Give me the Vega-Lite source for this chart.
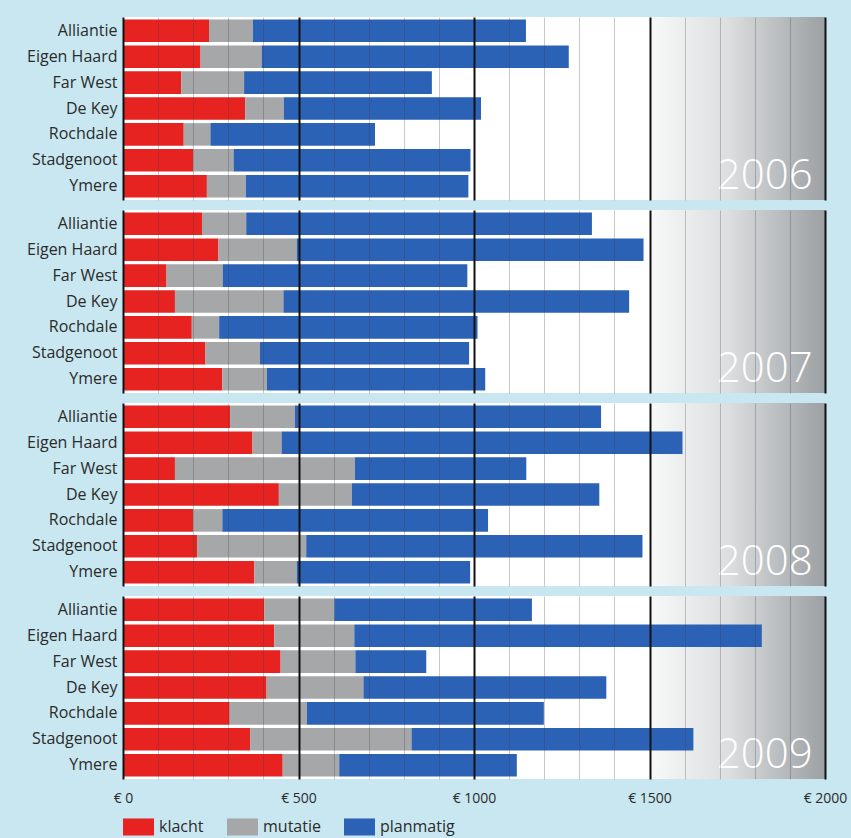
{
  "$schema": "https://vega.github.io/schema/vega-lite/v6.json",
  "background": "#c8e7f0",
  "padding": {"left": 26, "top": 17, "right": 10, "bottom": 2},
  "config": {
    "view": {"fill": "white", "stroke": null},
    "font": "Open Sans"
  },
  "data": {
    "values": [
      {"year": 2006, "corp": "Alliantie", "cat": "klacht", "value": 245},
      {"year": 2006, "corp": "Alliantie", "cat": "mutatie", "value": 125},
      {"year": 2006, "corp": "Alliantie", "cat": "planmatig", "value": 778},
      {"year": 2006, "corp": "Eigen Haard", "cat": "klacht", "value": 221},
      {"year": 2006, "corp": "Eigen Haard", "cat": "mutatie", "value": 174},
      {"year": 2006, "corp": "Eigen Haard", "cat": "planmatig", "value": 875},
      {"year": 2006, "corp": "Far West", "cat": "klacht", "value": 166},
      {"year": 2006, "corp": "Far West", "cat": "mutatie", "value": 179},
      {"year": 2006, "corp": "Far West", "cat": "planmatig", "value": 535},
      {"year": 2006, "corp": "De Key", "cat": "klacht", "value": 348},
      {"year": 2006, "corp": "De Key", "cat": "mutatie", "value": 110},
      {"year": 2006, "corp": "De Key", "cat": "planmatig", "value": 562},
      {"year": 2006, "corp": "Rochdale", "cat": "klacht", "value": 173},
      {"year": 2006, "corp": "Rochdale", "cat": "mutatie", "value": 76},
      {"year": 2006, "corp": "Rochdale", "cat": "planmatig", "value": 469},
      {"year": 2006, "corp": "Stadgenoot", "cat": "klacht", "value": 200},
      {"year": 2006, "corp": "Stadgenoot", "cat": "mutatie", "value": 115},
      {"year": 2006, "corp": "Stadgenoot", "cat": "planmatig", "value": 675},
      {"year": 2006, "corp": "Ymere", "cat": "klacht", "value": 239},
      {"year": 2006, "corp": "Ymere", "cat": "mutatie", "value": 111},
      {"year": 2006, "corp": "Ymere", "cat": "planmatig", "value": 634},
      {"year": 2007, "corp": "Alliantie", "cat": "klacht", "value": 225},
      {"year": 2007, "corp": "Alliantie", "cat": "mutatie", "value": 126},
      {"year": 2007, "corp": "Alliantie", "cat": "planmatig", "value": 985},
      {"year": 2007, "corp": "Eigen Haard", "cat": "klacht", "value": 272},
      {"year": 2007, "corp": "Eigen Haard", "cat": "mutatie", "value": 223},
      {"year": 2007, "corp": "Eigen Haard", "cat": "planmatig", "value": 988},
      {"year": 2007, "corp": "Far West", "cat": "klacht", "value": 124},
      {"year": 2007, "corp": "Far West", "cat": "mutatie", "value": 160},
      {"year": 2007, "corp": "Far West", "cat": "planmatig", "value": 697},
      {"year": 2007, "corp": "De Key", "cat": "klacht", "value": 148},
      {"year": 2007, "corp": "De Key", "cat": "mutatie", "value": 309},
      {"year": 2007, "corp": "De Key", "cat": "planmatig", "value": 985},
      {"year": 2007, "corp": "Rochdale", "cat": "klacht", "value": 196},
      {"year": 2007, "corp": "Rochdale", "cat": "mutatie", "value": 78},
      {"year": 2007, "corp": "Rochdale", "cat": "planmatig", "value": 736},
      {"year": 2007, "corp": "Stadgenoot", "cat": "klacht", "value": 235},
      {"year": 2007, "corp": "Stadgenoot", "cat": "mutatie", "value": 155},
      {"year": 2007, "corp": "Stadgenoot", "cat": "planmatig", "value": 596},
      {"year": 2007, "corp": "Ymere", "cat": "klacht", "value": 283},
      {"year": 2007, "corp": "Ymere", "cat": "mutatie", "value": 127},
      {"year": 2007, "corp": "Ymere", "cat": "planmatig", "value": 622},
      {"year": 2008, "corp": "Alliantie", "cat": "klacht", "value": 305},
      {"year": 2008, "corp": "Alliantie", "cat": "mutatie", "value": 185},
      {"year": 2008, "corp": "Alliantie", "cat": "planmatig", "value": 872},
      {"year": 2008, "corp": "Eigen Haard", "cat": "klacht", "value": 369},
      {"year": 2008, "corp": "Eigen Haard", "cat": "mutatie", "value": 83},
      {"year": 2008, "corp": "Eigen Haard", "cat": "planmatig", "value": 1142},
      {"year": 2008, "corp": "Far West", "cat": "klacht", "value": 148},
      {"year": 2008, "corp": "Far West", "cat": "mutatie", "value": 513},
      {"year": 2008, "corp": "Far West", "cat": "planmatig", "value": 488},
      {"year": 2008, "corp": "De Key", "cat": "klacht", "value": 444},
      {"year": 2008, "corp": "De Key", "cat": "mutatie", "value": 208},
      {"year": 2008, "corp": "De Key", "cat": "planmatig", "value": 705},
      {"year": 2008, "corp": "Rochdale", "cat": "klacht", "value": 200},
      {"year": 2008, "corp": "Rochdale", "cat": "mutatie", "value": 83},
      {"year": 2008, "corp": "Rochdale", "cat": "planmatig", "value": 757},
      {"year": 2008, "corp": "Stadgenoot", "cat": "klacht", "value": 211},
      {"year": 2008, "corp": "Stadgenoot", "cat": "mutatie", "value": 311},
      {"year": 2008, "corp": "Stadgenoot", "cat": "planmatig", "value": 958},
      {"year": 2008, "corp": "Ymere", "cat": "klacht", "value": 374},
      {"year": 2008, "corp": "Ymere", "cat": "mutatie", "value": 121},
      {"year": 2008, "corp": "Ymere", "cat": "planmatig", "value": 494},
      {"year": 2009, "corp": "Alliantie", "cat": "klacht", "value": 403},
      {"year": 2009, "corp": "Alliantie", "cat": "mutatie", "value": 199},
      {"year": 2009, "corp": "Alliantie", "cat": "planmatig", "value": 563},
      {"year": 2009, "corp": "Eigen Haard", "cat": "klacht", "value": 431},
      {"year": 2009, "corp": "Eigen Haard", "cat": "mutatie", "value": 228},
      {"year": 2009, "corp": "Eigen Haard", "cat": "planmatig", "value": 1161},
      {"year": 2009, "corp": "Far West", "cat": "klacht", "value": 449},
      {"year": 2009, "corp": "Far West", "cat": "mutatie", "value": 213},
      {"year": 2009, "corp": "Far West", "cat": "planmatig", "value": 202},
      {"year": 2009, "corp": "De Key", "cat": "klacht", "value": 409},
      {"year": 2009, "corp": "De Key", "cat": "mutatie", "value": 276},
      {"year": 2009, "corp": "De Key", "cat": "planmatig", "value": 692},
      {"year": 2009, "corp": "Rochdale", "cat": "klacht", "value": 304},
      {"year": 2009, "corp": "Rochdale", "cat": "mutatie", "value": 220},
      {"year": 2009, "corp": "Rochdale", "cat": "planmatig", "value": 675},
      {"year": 2009, "corp": "Stadgenoot", "cat": "klacht", "value": 362},
      {"year": 2009, "corp": "Stadgenoot", "cat": "mutatie", "value": 460},
      {"year": 2009, "corp": "Stadgenoot", "cat": "planmatig", "value": 803},
      {"year": 2009, "corp": "Ymere", "cat": "klacht", "value": 455},
      {"year": 2009, "corp": "Ymere", "cat": "mutatie", "value": 161},
      {"year": 2009, "corp": "Ymere", "cat": "planmatig", "value": 506}
    ]
  },
  "facet": {
    "row": {"field": "year", "type": "ordinal", "title": null, "header": {"labels": false, "title": null}}
  },
  "spacing": {"row": 10},
  "spec": {
    "width": 702,
    "height": 183,
    "layer": [
      {
        "transform": [{"filter": "datum.corp === 'Ymere' && datum.cat === 'planmatig'"}],
        "mark": {
          "type": "rect",
          "color": {
            "gradient": "linear", "x1": 0, "y1": 0, "x2": 1, "y2": 0,
            "stops": [
              {"offset": 0, "color": "#f8f9f9"},
              {"offset": 0.45, "color": "#dcdedf"},
              {"offset": 1, "color": "#9ca0a3"}
            ]
          }
        },
        "encoding": {
          "x": {"datum": 1500, "type": "quantitative"},
          "x2": {"datum": 2000}
        }
      },
      {
        "mark": {"type": "bar"},
        "encoding": {
          "y": {
            "field": "corp", "type": "nominal",
            "sort": ["Alliantie", "Eigen Haard", "Far West", "De Key", "Rochdale", "Stadgenoot", "Ymere"],
            "scale": {"paddingInner": 0.13, "paddingOuter": 0.1},
            "axis": {
              "title": null, "ticks": false, "domain": false, "labelPadding": 6,
              "labelFontSize": 16, "labelColor": "#2b2b2b", "minExtent": 93, "maxExtent": 93
            }
          },
          "x": {
            "field": "value", "type": "quantitative", "stack": "zero",
            "scale": {"domain": [0, 2000], "nice": false},
            "axis": {
              "title": null,
              "values": [0, 100, 200, 300, 400, 500, 600, 700, 800, 900, 1000, 1100, 1200, 1300, 1400, 1500, 1600, 1700, 1800, 1900, 2000],
              "tickCount": 40,
              "labelExpr": "datum.value % 500 === 0 ? '€ ' + datum.value : ''",
              "labelOverlap": false,
              "ticks": false, "domain": false, "grid": true, "zindex": 1,
              "gridColor": {"condition": {"test": "datum.value % 500 === 0", "value": "#111111"}, "value": "rgba(60,60,60,0.28)"},
              "gridWidth": {"condition": {"test": "datum.value % 500 === 0", "value": 2}, "value": 1},
              "labelFontSize": 14, "labelColor": "#2b2b2b", "labelPadding": 12, "labelFlush": false
            }
          },
          "color": {
            "field": "cat", "type": "nominal",
            "scale": {"domain": ["klacht", "mutatie", "planmatig"], "range": ["#e62320", "#a6a7a8", "#2c62b5"]},
            "legend": {
              "title": null, "orient": "none", "direction": "horizontal",
              "legendX": 0, "legendY": 794,
              "symbolType": "M-1,-0.55H1V0.55H-1Z", "symbolSize": 961,
              "symbolStrokeWidth": 0, "symbolOpacity": 1,
              "labelFontSize": 16, "labelColor": "#2b2b2b", "labelOffset": 5, "columnPadding": 23
            }
          },
          "order": {"field": "cat", "sort": "ascending"}
        }
      },
      {
        "transform": [{"filter": "datum.corp === 'Ymere' && datum.cat === 'planmatig'"}],
        "mark": {"type": "text", "align": "right", "baseline": "alphabetic", "fontSize": 42, "fontWeight": 300, "color": "white", "dy": 3},
        "encoding": {
          "x": {"datum": 1965, "type": "quantitative"},
          "y": {
            "field": "corp", "type": "nominal",
            "sort": ["Alliantie", "Eigen Haard", "Far West", "De Key", "Rochdale", "Stadgenoot", "Ymere"]
          },
          "text": {"field": "year", "type": "nominal"}
        }
      }
    ]
  }
}
